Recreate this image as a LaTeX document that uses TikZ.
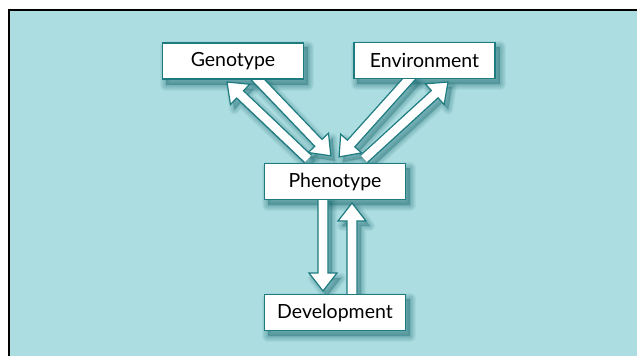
\documentclass[tikz,border=0pt]{standalone}
\usepackage{fontspec}
\setmainfont{Lato}
\usetikzlibrary{calc}
\definecolor{panel}{HTML}{ACDDE1}
\definecolor{edge}{HTML}{1E7B80}
\definecolor{shade}{HTML}{1F6F75}
\tikzset{
  box/.style={draw=edge, line width=1.3pt, fill=white, minimum width=141pt, minimum height=36pt,
    inner sep=0pt, font=\fontsize{19.5}{22}\selectfont},
  fatarr/.style={draw=edge, line width=1.2pt, fill=white, line join=miter},
  softstroke/.style={draw=shade, fill=shade, line join=round, draw opacity=0.07, fill opacity=0.07}
}
\newcommand\fatpath{(0pt,-5pt) -- (\fatlen pt-18pt,-5pt) -- (\fatlen pt-18pt,-14pt) -- (\fatlen pt,0pt)
      -- (\fatlen pt-18pt,14pt) -- (\fatlen pt-18pt,5pt) -- (0pt,5pt)}
\newcommand\fatmeasure[2]{%
  \path let \p1=(#1), \p2=(#2) in \pgfextra{%
    \pgfmathsetmacro\fatA{atan2(\y2-\y1,\x2-\x1)}%
    \pgfmathsetmacro\fatL{veclen(\x2-\x1,\y2-\y1)}%
    \xdef\fatang{\fatA}\xdef\fatlen{\fatL}};}
\newcommand\fatshadow[2]{%
  \fatmeasure{#1}{#2}%
  \begin{scope}[shift={($(#1)+(4,5)$)}, rotate=\fatang]
    \foreach \w in {10,8,6,4,2,0.5}{\path[softstroke, line width=\w pt] \fatpath -- cycle;}
  \end{scope}}
\newcommand\fatarrow[2]{%
  \fatmeasure{#1}{#2}%
  \begin{scope}[shift={(#1)}, rotate=\fatang]
    \draw[fatarr] \fatpath;
  \end{scope}}
\newcommand\boxshadow[1]{%
  \foreach \w in {12,10,8,6,4,2,0.5}{\path[softstroke, line width=\w pt] ($(#1.south west)+(4,5)$) rectangle ($(#1.north east)+(4,5)$);}}
\begin{document}
\begin{tikzpicture}[x=1pt,y=-1pt]
\useasboundingbox (0,0) rectangle (637,356);
\fill[white] (0,0) rectangle (637,356);
\fill[panel] (9,10) rectangle (637,356);
\draw[black, line width=2.4pt] (9.2,356) -- (9.2,10.2) -- (637,10.2);
% node positions (placeholders for geometry)
\path (233,61) node[box, draw=none, fill=none, text opacity=0] (gen) {Genotype};
\path (424.5,60.5) node[box, draw=none, fill=none, text opacity=0] (env) {Environment};
\path (335,181.5) node[box, draw=none, fill=none, text opacity=0] (phen) {Phenotype};
\path (335,312.5) node[box, draw=none, fill=none, text opacity=0] (dev) {Development};
% connector end points
\coordinate (g1) at ($(gen.south)+(21,-4)$);
\coordinate (g1t) at (331,156);
\coordinate (g2) at ($(phen.north)+(-27,-4)$);
\coordinate (g2t) at (227,82);
\coordinate (e1) at ($(env.south)+(-12,-4)$);
\coordinate (e1t) at (339,157);
\coordinate (e2) at ($(phen.north)+(29,-4)$);
\coordinate (e2t) at (448,82);
\coordinate (d1) at ($(phen.south)+(-12,-4)$);
\coordinate (d1t) at (323,291);
\coordinate (d2) at ($(dev.north)+(17,4)$);
\coordinate (d2t) at (352,203);
% shadows
\boxshadow{gen}\boxshadow{env}\boxshadow{phen}\boxshadow{dev}
\fatshadow{g1}{g1t}\fatshadow{g2}{g2t}\fatshadow{e1}{e1t}
\fatshadow{e2}{e2t}\fatshadow{d1}{d1t}\fatshadow{d2}{d2t}
% connectors
\fatarrow{g1}{g1t}
\fatarrow{g2}{g2t}
\fatarrow{e1}{e1t}
\fatarrow{e2}{e2t}
\fatarrow{d1}{d1t}
\fatarrow{d2}{d2t}
% boxes on top
\path (gen) node[box] {Genotype};
\path (env) node[box] {Environment};
\path (phen) node[box] {Phenotype};
\path (dev) node[box] {Development};
\end{tikzpicture}
\end{document}
